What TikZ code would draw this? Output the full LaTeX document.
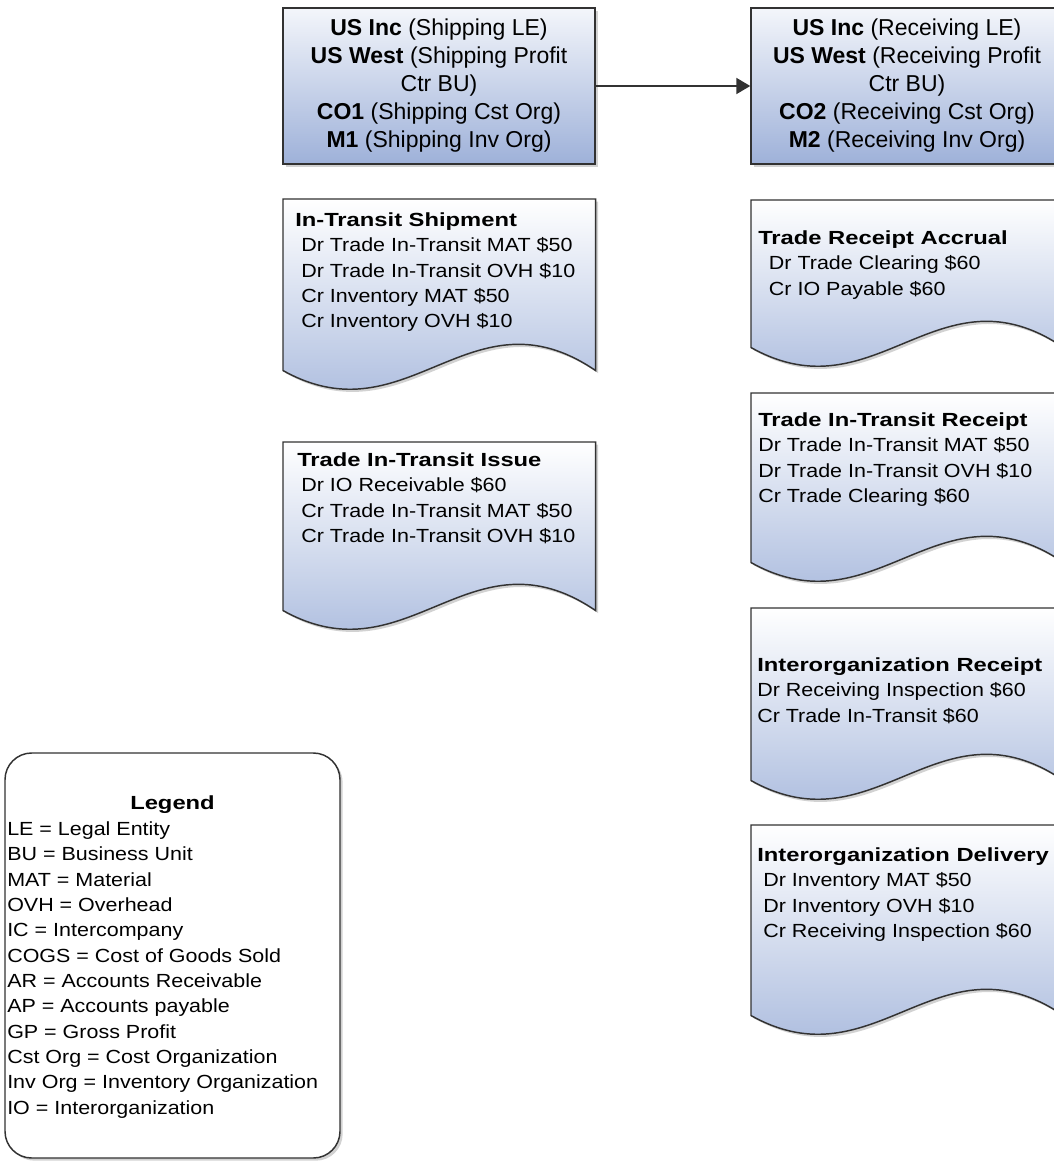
\documentclass[tikz,border=0pt]{standalone}
\usepackage{fontspec}
\setmainfont{Liberation Sans}
\newfontfamily\docfont{Liberation Sans}[FakeStretch=1.13,BoldFeatures={FakeStretch=1.25}]
\usetikzlibrary{arrows.meta,shadows}
\definecolor{boxblue}{RGB}{158,177,217}
\definecolor{boxline}{RGB}{50,50,50}

\begin{document}
\begin{tikzpicture}[
    x=0.75pt, y=-0.75pt,
    shadowed/.style={drop shadow={shadow xshift=2pt, shadow yshift=-2pt, fill=black!35}},
    orgbox/.style={draw=boxline, line width=1.1pt, shadowed, top color=boxblue!12, bottom color=boxblue, minimum width=234pt, minimum height=117pt, inner sep=0pt, align=center, font=\fontsize{17.25}{21}\selectfont},
    doc/.style={minimum width=234pt, inner sep=0pt, anchor=north west},
    docpath/.style={draw=boxline, line width=1.1pt, shadowed, top color=white, bottom color=boxblue},
    doctext/.style={anchor=north west, inner sep=0pt, align=left, font=\docfont\fontsize{14.25}{19}\selectfont},
    arrow/.style={-{Triangle[length=10.5pt,width=12pt]}, line width=1.5pt, draw=boxline}
]
    \useasboundingbox (0,0) rectangle (1053,1162);

    % Shipping and receiving organizations
    \node[orgbox] (sorg) at (439,86) {\textbf{US Inc} (Shipping LE)\\\textbf{US West} (Shipping Profit\\Ctr BU)\\\textbf{CO1} (Shipping Cst Org)\\\textbf{M1} (Shipping Inv Org)};
    \node[orgbox] (rorg) at (907,86) {\textbf{US Inc} (Receiving LE)\\\textbf{US West} (Receiving Profit\\Ctr BU)\\\textbf{CO2} (Receiving Cst Org)\\\textbf{M2} (Receiving Inv Org)};

    % Arrow
    \draw[arrow] (sorg) -- (rorg);

    % Document frames
    \node[doc, minimum height=128.25pt] (intransit) at (283,199) {};
    \node[doc, minimum height=126pt] (issue) at (283,442) {};
    \node[doc, minimum height=110.25pt] (accrual) at (751,200) {};
    \node[doc, minimum height=126.75pt] (receipt) at (751,393) {};
    \node[doc, minimum height=129pt] (iorcpt) at (751,608) {};
    \node[doc, minimum height=142.5pt] (iodeliv) at (751,825) {};

    \foreach \docname in {intransit,issue,accrual,receipt,iorcpt,iodeliv}
        \path[docpath] (\docname.north west) -- (\docname.north east) -- (\docname.south east)
            .. controls +(-125,-85) and +(125,70) .. (\docname.south west) -- cycle;

    % Journal entries
    \node[doctext] (intransitT) at (295,212.5) {\textbf{In-Transit Shipment}\\\hspace*{4.5pt}Dr Trade In-Transit MAT \$50\\\hspace*{4.5pt}Dr Trade In-Transit OVH \$10\\\hspace*{4.5pt}Cr Inventory MAT \$50\\\hspace*{4.5pt}Cr Inventory OVH \$10};
    \node[doctext] (issueT) at (297,452.5) {\textbf{Trade In-Transit Issue}\\\hspace*{3pt}Dr IO Receivable \$60\\\hspace*{3pt}Cr Trade In-Transit MAT \$50\\\hspace*{3pt}Cr Trade In-Transit OVH \$10};
    \node[doctext] (accrualT) at (758,230.5) {\textbf{Trade Receipt Accrual}\\\hspace*{8pt}Dr Trade Clearing \$60\\\hspace*{8pt}Cr IO Payable \$60};
    \node[doctext] (receiptT) at (758,412.5) {\textbf{Trade In-Transit Receipt}\\Dr Trade In-Transit MAT \$50\\Dr Trade In-Transit OVH \$10\\Cr Trade Clearing \$60};
    \node[doctext] (iorcptT) at (757,657.5) {\textbf{Interorganization Receipt}\\Dr Receiving Inspection \$60\\Cr Trade In-Transit \$60};
    \node[doctext] (iodelivT) at (757,847.5) {\textbf{Interorganization Delivery}\\\hspace*{4.5pt}Dr Inventory MAT \$50\\\hspace*{4.5pt}Dr Inventory OVH \$10\\\hspace*{4.5pt}Cr Receiving Inspection \$60};

    % Legend
    \node[draw=boxline, line width=1.1pt, rounded corners=20pt, fill=white, shadowed, minimum width=251.25pt, minimum height=303.75pt] (legend) at (172.5,955.5) {};
    \node[font=\docfont\bfseries\fontsize{14.25}{19}\selectfont, inner sep=0pt] (legendT) at (172.5,805) {Legend};
    \node[doctext, anchor=west] (legendL) at (7,970) {LE = Legal Entity\\BU = Business Unit\\MAT = Material\\OVH = Overhead\\IC = Intercompany\\COGS = Cost of Goods Sold\\AR = Accounts Receivable\\AP = Accounts payable\\GP = Gross Profit\\Cst Org = Cost Organization\\Inv Org = Inventory Organization\\IO = Interorganization};
\end{tikzpicture}
\end{document}
